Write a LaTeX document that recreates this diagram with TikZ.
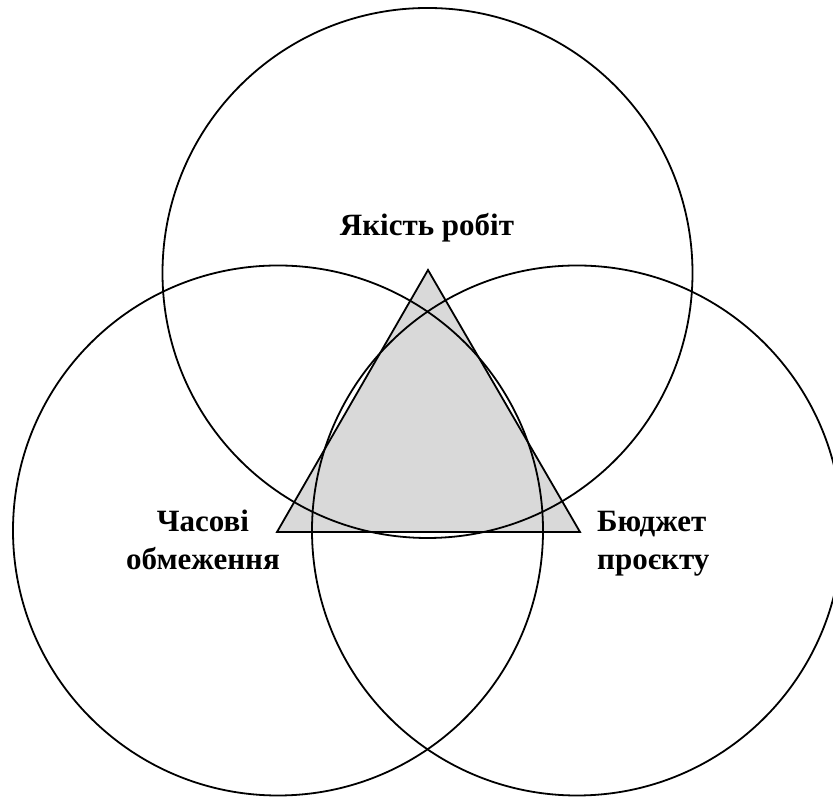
\documentclass[tikz,border=0pt]{standalone}
\usepackage{fontspec}
\setmainfont{Liberation Serif}
\definecolor{trigray}{HTML}{D9D9D9}
\begin{document}
\begin{tikzpicture}[x=1pt,y=1pt,
  ring/.style={draw=black,line width=1.8pt},
  tri/.style={draw=black,fill=trigray,line width=1.8pt,line join=miter},
  lbl/.style={font=\fontsize{31}{38}\selectfont\bfseries,inner sep=0pt,anchor=base}]
\useasboundingbox (0,0) rectangle (833,799);
\coordinate (apex) at (428,529);
\coordinate (bl) at (277,267);
\coordinate (br) at (580,267);
\draw[tri] (apex) -- (bl) -- (br) -- cycle;
\node[ring,circle,minimum size=530pt,inner sep=0pt] (top) at (427.5,526) {};
\node[ring,circle,minimum size=530pt,inner sep=0pt] (left) at (278,268.5) {};
\node[ring,circle,minimum size=530pt,inner sep=0pt] (right) at (577,268.5) {};
\node[lbl] (quality) at (427,563) {Якість робіт};
\node[lbl] (time1) at (203,267) {Часові};
\node[lbl] (time2) at (203,229) {обмеження};
\node[lbl,anchor=base west] (budget1) at (597,267) {Бюджет};
\node[lbl,anchor=base west] (budget2) at (597,229) {проєкту};
\end{tikzpicture}
\end{document}
